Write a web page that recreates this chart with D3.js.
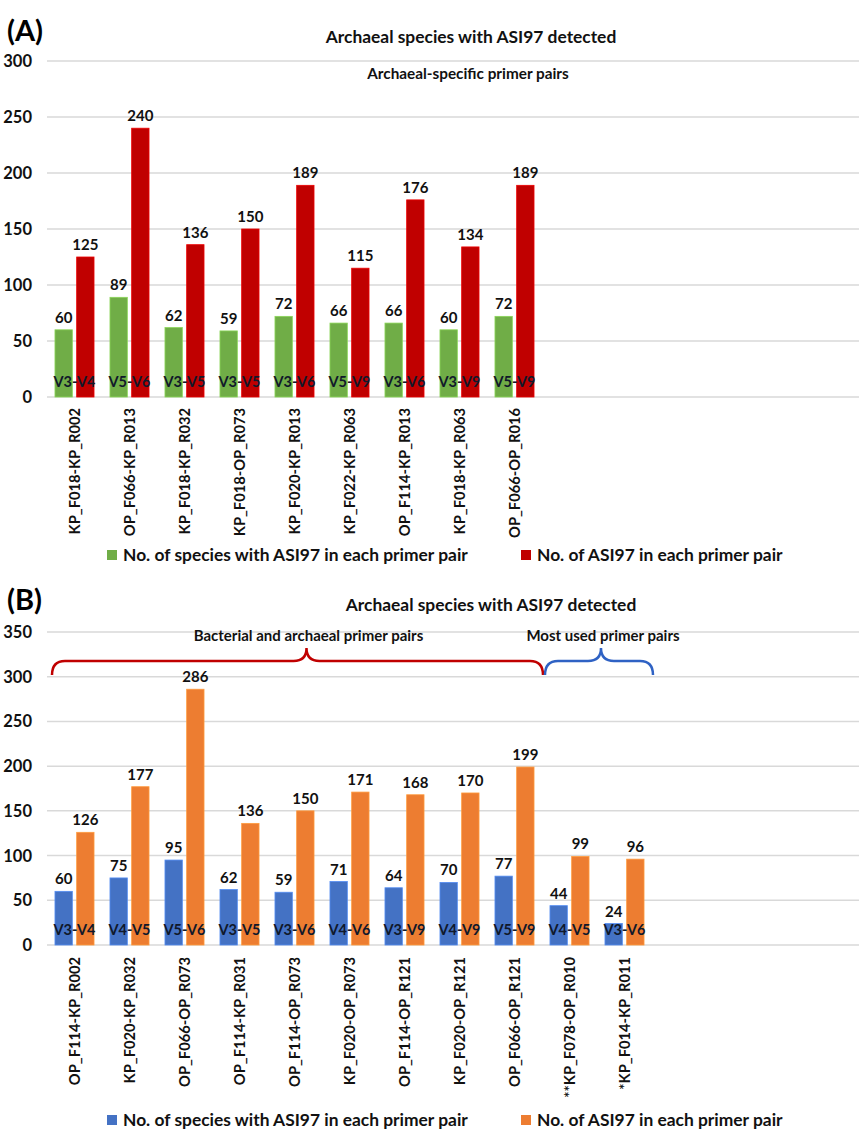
<!DOCTYPE html>
<html>
<head>
<meta charset="utf-8">
<script src="https://cdn.jsdelivr.net/npm/d3@7"></script>
<style>
  html, body { margin: 0; padding: 0; background: #fff; }
  svg { display: block; font-family: Lato, "Liberation Sans", Arial, sans-serif; font-weight: bold; }
</style>
</head>
<body>
<svg id="chart" width="859" height="1129"></svg>
<script>
// ---- Panel A: archaeal-specific primer pairs ----
const primersA = ["KP_F018-KP_R002", "OP_F066-KP_R013", "KP_F018-KP_R032", "KP_F018-OP_R073",
  "KP_F020-KP_R013", "KP_F022-KP_R063", "OP_F114-KP_R013", "KP_F018-KP_R063", "OP_F066-OP_R016"];
const regionsA = ["V3-V4", "V5-V6", "V3-V5", "V3-V5", "V3-V6", "V5-V9", "V3-V6", "V3-V9", "V5-V9"];
const speciesA = [60, 89, 62, 59, 72, 66, 66, 60, 72];
const asiA = [125, 240, 136, 150, 189, 115, 176, 134, 189];
const ticksA = [0, 50, 100, 150, 200, 250, 300];

// ---- Panel B: bacterial/archaeal and most used primer pairs ----
const primersB = ["OP_F114-KP_R002", "KP_F020-KP_R032", "OP_F066-OP_R073", "OP_F114-KP_R031",
  "OP_F114-OP_R073", "KP_F020-OP_R073", "OP_F114-OP_R121", "KP_F020-OP_R121", "OP_F066-OP_R121",
  "**KP_F078-OP_R010", "*KP_F014-KP_R011"];
const regionsB = ["V3-V4", "V4-V5", "V5-V6", "V3-V5", "V3-V6", "V4-V6", "V3-V9", "V4-V9", "V5-V9", "V4-V5", "V3-V6"];
const speciesB = [60, 75, 95, 62, 59, 71, 64, 70, 77, 44, 24];
const asiB = [126, 177, 286, 136, 150, 171, 168, 170, 199, 99, 96];
const ticksB = [0, 50, 100, 150, 200, 250, 300, 350];

// Bracket groups in panel B (inclusive category index ranges)
const groupsB = [
  { label: "Bacterial and archaeal primer pairs", from: 0, to: 8, color: "#c00000" },
  { label: "Most used primer pairs", from: 9, to: 10, color: "#2f62c4" }
];

const seriesLabels = ["No. of species with ASI97 in each primer pair", "No. of ASI97 in each primer pair"];

const svg = d3.select("#chart");
const W = 859;
const plotLeft = 47;
const step = 55;

function drawPanel(cfg) {
  const g = svg.append("g");
  const y = d3.scaleLinear().domain([0, cfg.ticks[cfg.ticks.length - 1]]).range([cfg.y0, cfg.yTop]);
  const x = d3.scaleBand().domain(cfg.primers).range([plotLeft, plotLeft + step * cfg.primers.length]);
  const bw = x.bandwidth();
  const sub = d3.scaleBand().domain([0, 1]).range([bw * 0.145, bw * 0.855]).paddingInner(0.2);

  // gridlines
  g.append("g").selectAll("line").data(cfg.ticks).join("line")
    .attr("x1", plotLeft).attr("x2", W)
    .attr("y1", d => y(d)).attr("y2", d => y(d))
    .attr("stroke", "#d9d9d9").attr("stroke-width", 1.5);

  // y tick labels
  g.append("g").selectAll("text").data(cfg.ticks).join("text")
    .attr("x", 32).attr("y", d => y(d)).attr("dy", "0.36em")
    .attr("text-anchor", "end").attr("font-size", 16.5).attr("fill", "#111")
    .text(d => d);

  const rows = cfg.primers.map((p, i) => ({ p, i, vals: [cfg.species[i], cfg.asi[i]], region: cfg.regions[i] }));

  const grp = g.append("g").selectAll("g").data(rows).join("g")
    .attr("transform", d => `translate(${x(d.p)},0)`);

  // bars
  grp.selectAll("rect").data(d => d.vals.map((v, k) => ({ v, k }))).join("rect")
    .attr("x", d => sub(d.k)).attr("width", sub.bandwidth())
    .attr("y", d => y(d.v)).attr("height", d => y(0) - y(d.v))
    .attr("fill", d => cfg.colors[d.k])
    .attr("stroke", d => d3.color(cfg.colors[d.k]).brighter(0.6))
    .attr("stroke-width", 0.8);

  // value labels
  grp.selectAll("text.val").data(d => d.vals.map((v, k) => ({ v, k }))).join("text")
    .attr("class", "val")
    .attr("x", d => sub(d.k) + sub.bandwidth() / 2)
    .attr("y", d => y(d.v) - 7)
    .attr("text-anchor", "middle").attr("font-size", 15).attr("fill", "#111")
    .text(d => d.v);

  // variable region labels inside bars
  grp.append("text")
    .attr("x", bw / 2).attr("y", y(0) - 10)
    .attr("text-anchor", "middle").attr("font-size", 14.5).attr("fill", "#10182a")
    .text(d => d.region);

  // rotated category labels
  g.append("g").selectAll("text").data(cfg.primers).join("text")
    .attr("transform", d => `translate(${x(d) + bw / 2},${cfg.labelTop}) rotate(-90)`)
    .attr("dy", "0.36em").attr("text-anchor", "end")
    .attr("font-size", 14.7).attr("fill", "#111")
    .text(d => d);

  // panel tag, title, legend
  svg.append("text").attr("x", 7).attr("y", cfg.tagY).attr("dy", "0.36em")
    .attr("font-size", 29).attr("fill", "#000").text(cfg.tag);
  svg.append("text").attr("x", cfg.titleX).attr("y", cfg.titleY).attr("dy", "0.36em")
    .attr("text-anchor", "middle").attr("font-size", 17.4).attr("fill", "#111")
    .text("Archaeal species with ASI97 detected");

  const legX = [107, 521];
  const leg = svg.append("g").selectAll("g").data(seriesLabels).join("g")
    .attr("transform", (d, k) => `translate(${legX[k]},${cfg.legendY})`);
  leg.append("rect").attr("x", 0).attr("y", -5).attr("width", 10).attr("height", 10)
    .attr("fill", (d, k) => cfg.colors[k]);
  leg.append("text").attr("x", 16).attr("dy", "0.36em")
    .attr("font-size", 17.4).attr("fill", "#111").text(d => d);

  return { x, y, bw, g };
}

// Panel A
const A = drawPanel({
  primers: primersA, regions: regionsA, species: speciesA, asi: asiA, ticks: ticksA,
  y0: 397, yTop: 61, labelTop: 408, colors: ["#70ad47", "#c00000"],
  tag: "(A)", tagY: 31, titleX: 471, titleY: 37, legendY: 555
});
svg.append("text").attr("x", 468).attr("y", 73).attr("dy", "0.36em")
  .attr("text-anchor", "middle").attr("font-size", 15.3).attr("fill", "#111")
  .text("Archaeal-specific primer pairs");

// Panel B
const B = drawPanel({
  primers: primersB, regions: regionsB, species: speciesB, asi: asiB, ticks: ticksB,
  y0: 945, yTop: 632, labelTop: 957, colors: ["#4472c4", "#ed7d31"],
  tag: "(B)", tagY: 600, titleX: 491, titleY: 605, legendY: 1120
});

// curly braces over groups of primer pairs
function bracePath(x0, x1, xm, yEnd, yLine, yPeak) {
  const r = 13;
  return `M${x0},${yEnd} Q${x0},${yLine} ${x0 + r},${yLine} L${xm - r},${yLine} ` +
    `Q${xm},${yLine} ${xm},${yPeak} Q${xm},${yLine} ${xm + r},${yLine} L${x1 - r},${yLine} ` +
    `Q${x1},${yLine} ${x1},${yEnd}`;
}
const braceShift = [9, 2];
groupsB.forEach((gr, k) => {
  const x0 = B.x(primersB[gr.from]) + (k === 0 ? 5 : 3);
  const x1 = B.x(primersB[gr.to]) + B.bw + 1;
  const xm = (x0 + x1) / 2 + braceShift[k];
  svg.append("path").attr("d", bracePath(x0, x1, xm, 675, 661, 648))
    .attr("fill", "none").attr("stroke", gr.color).attr("stroke-width", 2.5);
  svg.append("text").attr("x", xm + 2).attr("y", 636).attr("dy", "0.36em")
    .attr("text-anchor", "middle").attr("font-size", 15).attr("fill", "#111")
    .text(gr.label);
});
</script>
</body>
</html>
